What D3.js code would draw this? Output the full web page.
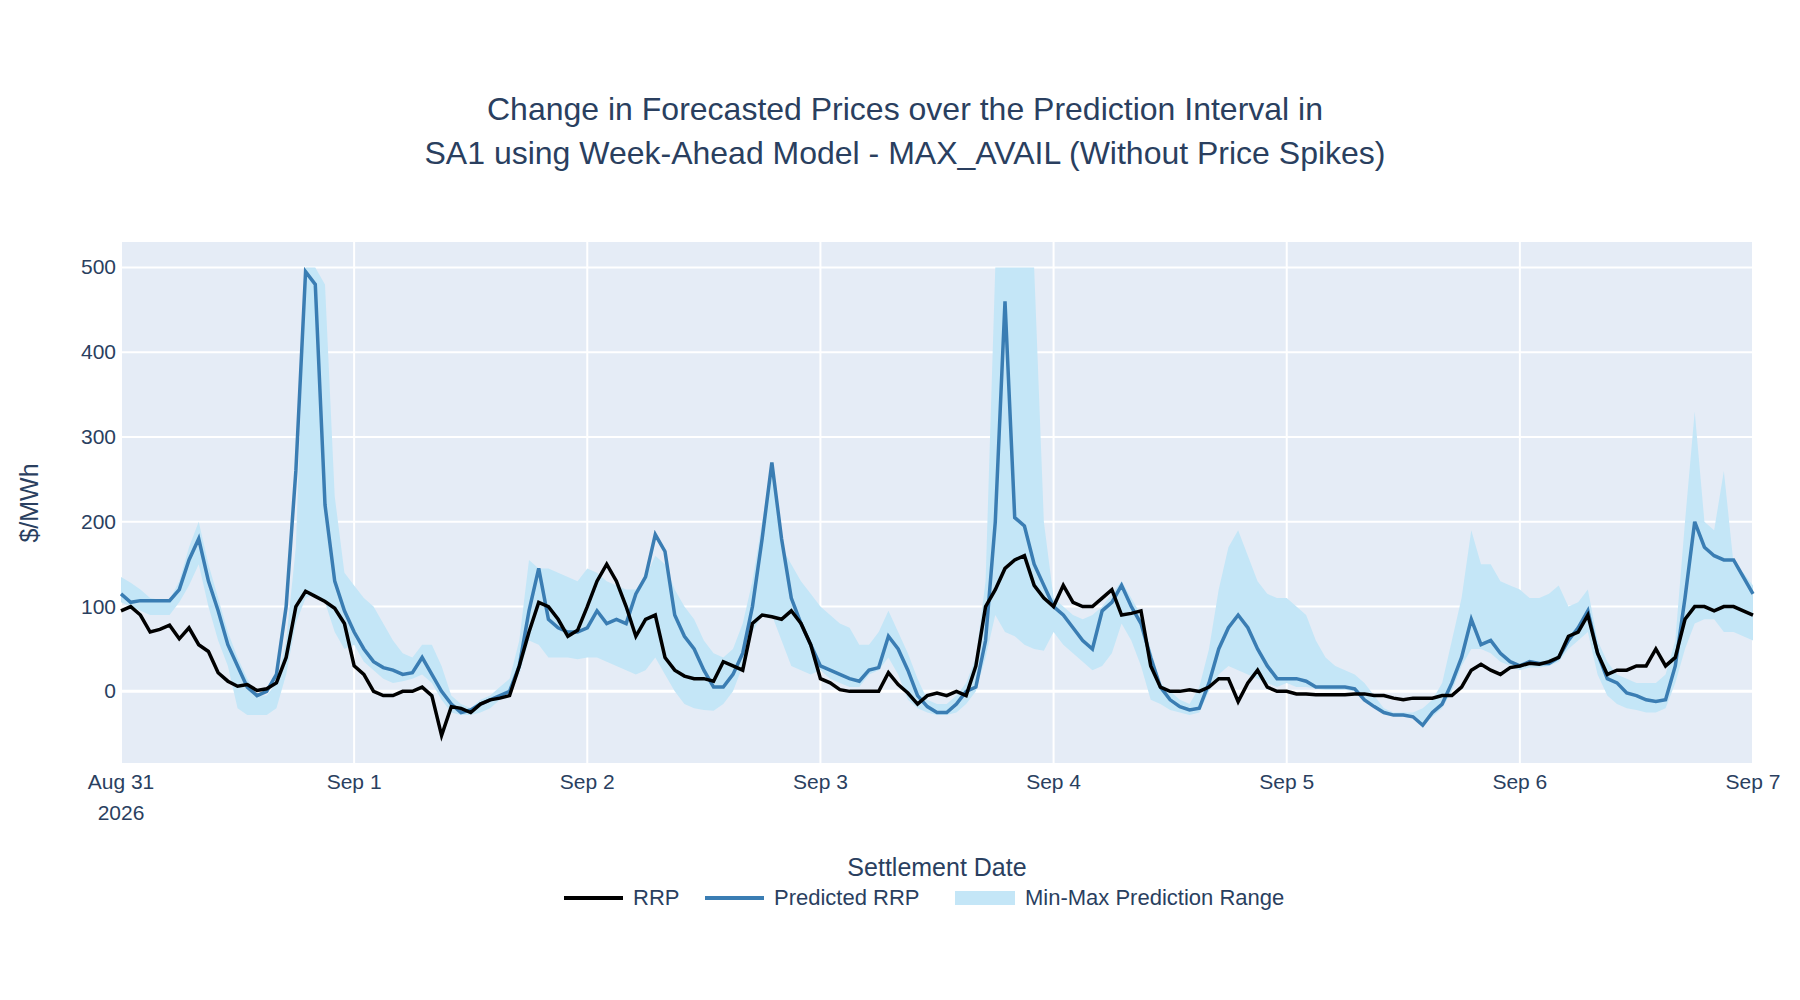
<!DOCTYPE html>
<html><head><meta charset="utf-8">
<script src="https://cdn.jsdelivr.net/npm/d3@7"></script>
<style>body{margin:0;background:#fff}text{font-family:"Liberation Sans",Arial,sans-serif}</style>
</head><body><svg id="c" width="1800" height="1000"></svg>
<script>
// hourly values from 2026-08-31 00:00 to 2026-09-07 00:00
const rrp = [
95,100,90,70,73,78,62,75,55,47,22,12,6,8,1,3,10,40,100,118,112,106,98,80,
30,20,0,-5,-5,0,0,5,-5,-52,-18,-20,-25,-15,-10,-8,-5,30,70,105,100,85,65,72,
100,130,150,130,100,65,85,90,40,25,18,15,15,12,35,30,25,80,90,88,85,95,80,55,
15,10,2,0,0,0,0,22,8,-2,-15,-5,-2,-5,0,-5,30,100,120,145,155,160,125,110,
100,125,105,100,100,110,120,90,92,95,30,5,0,0,2,0,5,15,15,-12,10,25,5,0,
0,-3,-3,-4,-4,-4,-4,-3,-3,-5,-5,-8,-10,-8,-8,-8,-5,-5,5,25,32,25,20,28,
30,33,32,35,40,65,70,90,45,20,25,25,30,30,50,30,40,85,100,100,95,100,100,95,90];
const predicted = [
115,105,107,107,107,107,120,155,180,130,95,55,30,5,-5,0,20,100,260,495,480,220,130,95,
70,50,35,28,25,20,22,40,20,0,-15,-25,-22,-15,-10,-5,0,30,95,145,85,75,70,70,
75,95,80,85,80,115,135,185,165,90,65,50,25,5,5,20,45,100,180,270,180,110,80,55,
30,25,20,15,12,25,28,65,50,25,-5,-18,-25,-25,-15,0,5,60,200,460,205,195,150,125,
100,90,75,60,50,95,105,125,100,80,40,5,-10,-18,-22,-20,10,50,75,90,75,50,30,15,
15,15,12,5,5,5,5,3,-10,-18,-25,-28,-28,-30,-40,-25,-15,10,40,85,55,60,45,35,
30,35,33,33,40,60,75,95,45,15,10,-2,-5,-10,-12,-10,30,110,200,170,160,155,155,135,115];
const rangeMax = [
135,128,120,110,108,108,130,170,200,150,110,70,40,15,-5,-5,10,60,170,500,500,480,230,140,
125,110,100,80,60,45,40,55,55,30,-5,-15,-20,-10,-5,5,15,60,155,145,145,140,135,130,
145,140,130,125,120,120,135,160,150,120,100,85,60,45,40,50,80,130,200,270,170,150,130,115,
100,90,80,75,55,55,70,95,70,45,15,-10,-15,-15,-5,10,40,130,500,500,500,500,500,200,
110,100,90,85,90,100,115,130,110,90,50,10,0,-10,-15,5,50,120,170,190,160,130,115,110,
110,100,90,60,40,30,25,20,10,-5,-20,-25,-25,-25,-20,-10,10,60,110,190,150,150,130,125,
120,110,110,115,125,100,105,120,60,35,20,15,10,10,10,20,60,200,330,200,190,260,150,140,125];
const rangeMin = [
105,100,95,90,90,90,105,125,150,100,60,30,-20,-28,-28,-28,-20,20,80,110,115,105,70,50,
55,35,25,15,10,12,15,20,10,-10,-25,-28,-28,-25,-20,-10,0,20,60,55,40,40,40,38,
40,40,35,30,25,20,25,40,20,0,-15,-20,-22,-23,-15,0,30,70,90,90,60,30,25,20,
25,15,10,5,5,20,25,40,20,-10,-20,-25,-28,-28,-25,-15,0,40,90,70,65,55,50,48,
70,55,45,35,25,30,45,80,60,30,-10,-15,-22,-25,-28,-25,0,20,30,25,20,15,10,5,
10,5,5,3,2,2,2,0,-10,-20,-25,-28,-30,-32,-40,-30,-20,0,30,50,50,45,35,30,
25,28,28,30,35,50,60,70,20,-5,-15,-20,-22,-25,-25,-20,10,50,80,85,85,70,70,65,60];
const yTicks = [0,100,200,300,400,500];
const xTickLabels = [["Aug 31","2026"],["Sep 1"],["Sep 2"],["Sep 3"],["Sep 4"],["Sep 5"],["Sep 6"],["Sep 7"]];

const start = new Date(2026,7,31);
const t = i => new Date(start.getTime()+i*3600e3);
const svg = d3.select("#c");
const L=121,R=1753,T=242,B=763;
const x = d3.scaleTime().domain([start,t(168)]).range([L,R]);
const y = d3.scaleLinear().domain([-84.5,530]).range([B,T]);
const idx = d3.range(169);

svg.append("rect").attr("x",L).attr("y",T).attr("width",R-L).attr("height",B-T).attr("fill","#E5ECF6");
const days = d3.range(8).map(d=>t(d*24));
svg.append("g").selectAll("line").data(days).join("line")
 .attr("x1",d=>x(d)).attr("x2",d=>x(d)).attr("y1",T).attr("y2",B).attr("stroke","#fff").attr("stroke-width",2);
svg.append("g").selectAll("line").data(yTicks).join("line")
 .attr("x1",L).attr("x2",R).attr("y1",d=>y(d)).attr("y2",d=>y(d)).attr("stroke","#fff").attr("stroke-width",d=>d===0?3:2);

svg.append("path").datum(idx).attr("fill","#c4e6f7")
 .attr("d",d3.area().x(i=>x(t(i))).y0(i=>y(rangeMin[i])).y1(i=>y(rangeMax[i])));
svg.append("path").datum(idx).attr("fill","none").attr("stroke","#3a7db3").attr("stroke-width",3.5)
 .attr("d",d3.line().x(i=>x(t(i))).y(i=>y(predicted[i])));
svg.append("path").datum(idx).attr("fill","none").attr("stroke","#000").attr("stroke-width",3.5)
 .attr("d",d3.line().x(i=>x(t(i))).y(i=>y(rrp[i])));

const tc="#2a3f5f";
svg.append("g").selectAll("text").data(yTicks).join("text")
 .attr("x",L-5).attr("y",d=>y(d)+7).attr("text-anchor","end").attr("font-size",21).attr("fill",tc).text(d=>d);
days.forEach((d,k)=>{
  xTickLabels[k].forEach((s,j)=>svg.append("text").attr("x",x(d)).attr("y",789+j*31)
   .attr("text-anchor","middle").attr("font-size",21).attr("fill",tc).text(s));
});
svg.append("text").attr("transform","translate(38,503) rotate(-90)").attr("text-anchor","middle")
 .attr("font-size",25).attr("fill",tc).text("$/MWh");
svg.append("text").attr("x",937).attr("y",876).attr("text-anchor","middle").attr("font-size",25).attr("fill",tc).text("Settlement Date");
svg.append("text").attr("x",905).attr("y",120).attr("text-anchor","middle").attr("font-size",32).attr("fill",tc).text("Change in Forecasted Prices over the Prediction Interval in");
svg.append("text").attr("x",905).attr("y",164).attr("text-anchor","middle").attr("font-size",32).attr("fill",tc).text("SA1 using Week-Ahead Model - MAX_AVAIL (Without Price Spikes)");

const lg=svg.append("g");
lg.append("line").attr("x1",564).attr("x2",623).attr("y1",898).attr("y2",898).attr("stroke","#000").attr("stroke-width",4);
lg.append("text").attr("x",633).attr("y",905).attr("font-size",22).attr("fill",tc).text("RRP");
lg.append("line").attr("x1",705).attr("x2",764).attr("y1",898).attr("y2",898).attr("stroke","#3a7db3").attr("stroke-width",4);
lg.append("text").attr("x",774).attr("y",905).attr("font-size",22).attr("fill",tc).text("Predicted RRP");
lg.append("rect").attr("x",955).attr("y",891).attr("width",60).attr("height",14).attr("fill","#c4e6f7");
lg.append("text").attr("x",1025).attr("y",905).attr("font-size",22).attr("fill",tc).text("Min-Max Prediction Range");
</script></body></html>
